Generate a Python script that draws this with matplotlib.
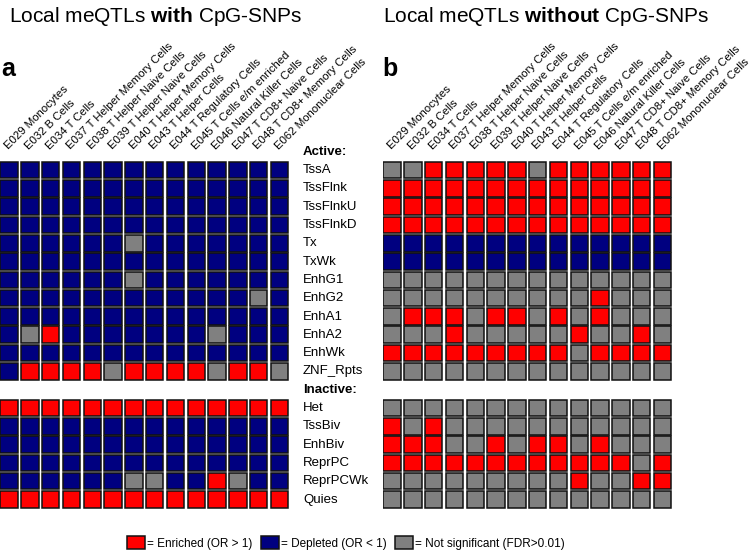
import matplotlib
matplotlib.use("Agg")
import matplotlib.pyplot as plt
from matplotlib.patches import Rectangle, Patch

plt.rcParams["font.family"] = ["Liberation Sans", "DejaVu Sans"]
plt.rcParams["mathtext.fontset"] = "custom"
plt.rcParams["mathtext.rm"] = "Liberation Sans"
plt.rcParams["mathtext.bf"] = "Liberation Sans:bold"

# ---- data -------------------------------------------------------------
CELL_TYPES = [
    "E029 Monocytes", "E032 B Cells", "E034 T Cells",
    "E037 T Helper Memory Cells", "E038 T Helper Naive Cells",
    "E039 T Helper Naive Cells", "E040 T Helper Memory Cells",
    "E043 T Helper Cells", "E044 T Regulatory Cells",
    "E045 T Cells e/m enriched", "E046 Natural Killer Cells",
    "E047 T CD8+ Naive Cells", "E048 T CD8+ Memory Cells",
    "E062 Mononuclear Cells",
]
ACTIVE_STATES = ["TssA", "TssFlnk", "TssFlnkU", "TssFlnkD", "Tx", "TxWk",
                 "EnhG1", "EnhG2", "EnhA1", "EnhA2", "EnhWk", "ZNF_Rpts"]
INACTIVE_STATES = ["Het", "TssBiv", "EnhBiv", "ReprPC", "ReprPCWk", "Quies"]

# E = enriched, D = depleted, N = not significant (one char per cell type)
WITH_CPG_ACTIVE = [
    "DDDDDDDDDDDDDD",  # TssA
    "DDDDDDDDDDDDDD",  # TssFlnk
    "DDDDDDDDDDDDDD",  # TssFlnkU
    "DDDDDDDDDDDDDD",  # TssFlnkD
    "DDDDDDNDDDDDDD",  # Tx
    "DDDDDDDDDDDDDD",  # TxWk
    "DDDDDDNDDDDDDD",  # EnhG1
    "DDDDDDDDDDDDND",  # EnhG2
    "DDDDDDDDDDDDDD",  # EnhA1
    "DNEDDDDDDDNDDD",  # EnhA2
    "DDDDDDDDDDDDDD",  # EnhWk
    "DEEEENEEEENEEN",  # ZNF_Rpts
]
WITH_CPG_INACTIVE = [
    "EEEEEEEEEEEEEE",  # Het
    "DDDDDDDDDDDDDD",  # TssBiv
    "DDDDDDDDDDDDDD",  # EnhBiv
    "DDDDDDDDDDDDDD",  # ReprPC
    "DDDDDDNNDDENDD",  # ReprPCWk
    "EEEEEEEEEEEEEE",  # Quies
]
WITHOUT_CPG_ACTIVE = [
    "NNEEEEENEEEEEE",  # TssA
    "EEEEEEEEEEEEEE",  # TssFlnk
    "EEEEEEEEEEEEEE",  # TssFlnkU
    "EEEEEEEEEEEEEE",  # TssFlnkD
    "DDDDDDDDDDDDDD",  # Tx
    "DDDDDDDDDDDDDD",  # TxWk
    "NNNNNNNNNNNNNN",  # EnhG1
    "NNNNNNNNNNENNN",  # EnhG2
    "NEEENEENENENNN",  # EnhA1
    "NNNENNNNNENNEN",  # EnhA2
    "EEEEEEEEENEEEE",  # EnhWk
    "NNNNNNNNNNNNNN",  # ZNF_Rpts
]
WITHOUT_CPG_INACTIVE = [
    "NNNNNNNNNNNNNN",  # Het
    "ENENNNNNNNNNNN",  # TssBiv
    "EEENNENEENENNN",  # EnhBiv
    "EEEEEEEEEEEENE",  # ReprPC
    "NNNNNNNNNENNEE",  # ReprPCWk
    "NNNNNNNNNNNNNN",  # Quies
]

COLORS = {"E": "#FF0000", "D": "#000080", "N": "#808080"}
LEGEND_LABELS = ["= Enriched (OR > 1)", "= Depleted (OR < 1)",
                 "= Not significant (FDR>0.01)"]

# ---- layout (pixels of a 752x552 canvas) ------------------------------
W, H = 752, 552
N_ROWS = len(ACTIVE_STATES) + 1 + len(INACTIVE_STATES)
PITCH_X, PITCH_Y = 20.8, 18.3
TOP = 161


def draw_panel(ax, active, inactive, show_rows):
    ncol = len(CELL_TYPES)
    ax.set_xlim(0, ncol)
    ax.set_ylim(N_ROWS, 0)
    ax.axis("off")

    rows = list(enumerate(active)) + [
        (len(active) + 1 + k, r) for k, r in enumerate(inactive)
    ]
    for r, codes in rows:
        for c, code in enumerate(codes):
            ax.add_patch(Rectangle((c + 0.02, r + 0.04), 0.84, 0.91,
                                   facecolor=COLORS[code],
                                   edgecolor="#111111", linewidth=1.1))

    for c, name in enumerate(CELL_TYPES):
        ax.text(c + 0.4, -0.6, name, rotation=45, rotation_mode="anchor",
                ha="left", va="baseline", fontsize=8.2, clip_on=False)

    if show_rows:
        lx = ncol + 0.57
        ax.text(lx, -0.5, "Active:", fontweight="bold", fontsize=9.5,
                ha="left", va="center", clip_on=False)
        for i, name in enumerate(ACTIVE_STATES):
            ax.text(lx, i + 0.5, name, fontsize=9.5, ha="left", va="center",
                    clip_on=False)
        off = len(ACTIVE_STATES)
        ax.text(lx, off + 0.5, "Inactive:", fontweight="bold", fontsize=9.5,
                ha="left", va="center", clip_on=False)
        for i, name in enumerate(INACTIVE_STATES):
            ax.text(lx, off + 1 + i + 0.5, name, fontsize=9.5, ha="left",
                    va="center", clip_on=False)


fig = plt.figure(figsize=(W / 100, H / 100), dpi=100)

panel_w = len(CELL_TYPES) * PITCH_X
panel_h = N_ROWS * PITCH_Y
ax_a = fig.add_axes([0 / W, 1 - (TOP + panel_h) / H, panel_w / W, panel_h / H])
ax_b = fig.add_axes([383 / W, 1 - (TOP + panel_h) / H, panel_w / W, panel_h / H])

draw_panel(ax_a, WITH_CPG_ACTIVE, WITH_CPG_INACTIVE, show_rows=True)
draw_panel(ax_b, WITHOUT_CPG_ACTIVE, WITHOUT_CPG_INACTIVE, show_rows=False)

# titles and panel letters
fig.text(9 / W, 1 - 22 / H, r"Local meQTLs $\bf{with}$ CpG-SNPs",
         fontsize=15, ha="left", va="baseline")
fig.text(383 / W, 1 - 22 / H, r"Local meQTLs $\bf{without}$ CpG-SNPs",
         fontsize=15, ha="left", va="baseline")
fig.text(1 / W, 1 - 76 / H, "a", fontsize=18, fontweight="bold",
         ha="left", va="baseline")
fig.text(382 / W, 1 - 76 / H, "b", fontsize=18, fontweight="bold",
         ha="left", va="baseline")

# legend
handles = [Patch(facecolor=COLORS[k], edgecolor="#111111", linewidth=1.1)
           for k in ("E", "D", "N")]
fig.legend(handles, LEGEND_LABELS, loc="center left",
           bbox_to_anchor=(127 / W, 1 - 543 / H), ncol=3, frameon=False,
           fontsize=8.5, handlelength=1.55, handleheight=1.3,
           handletextpad=0.15, columnspacing=0.7, borderpad=0,
           borderaxespad=0)

fig.savefig("out.png", dpi=100)
